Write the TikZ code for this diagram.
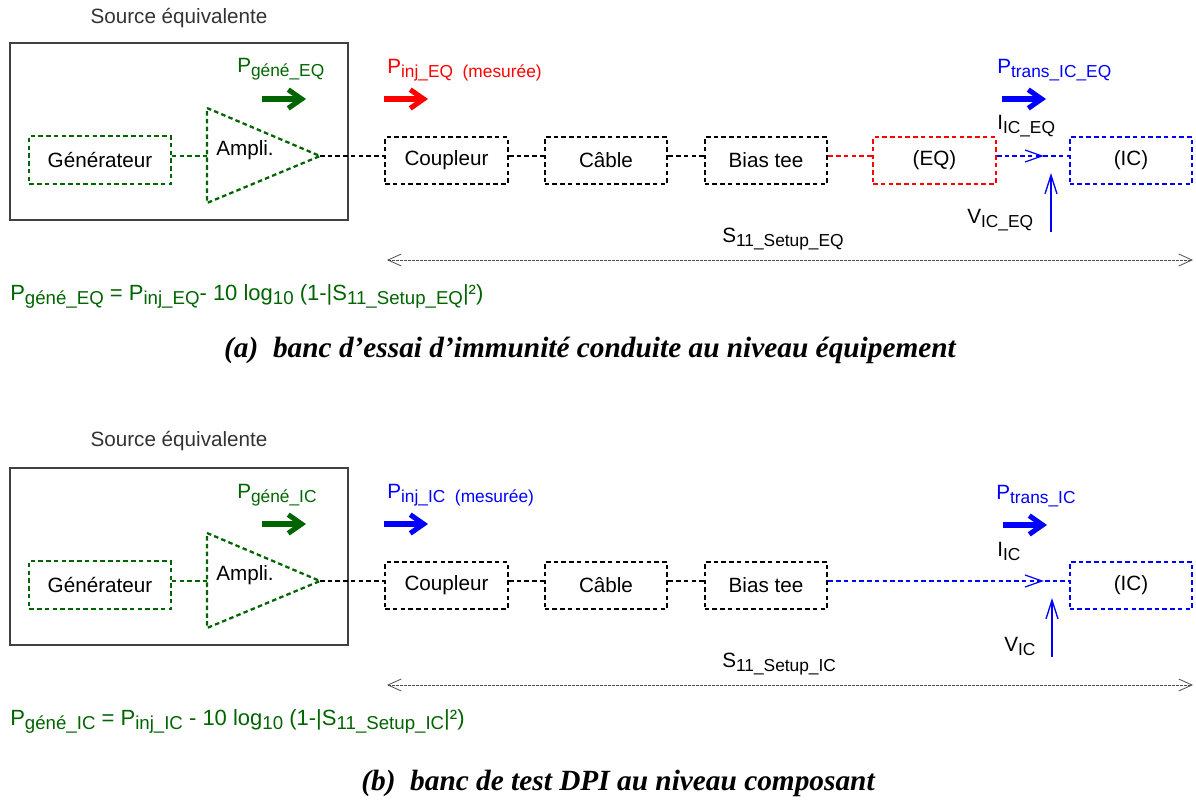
\documentclass[tikz,border=0pt]{standalone}
\usepackage{fontspec}
\setmainfont{Liberation Sans}
\newfontfamily\capfont{Liberation Serif}
\usetikzlibrary{positioning, calc, arrows.meta}
\definecolor{srcgreen}{RGB}{0,100,0}
\newcommand{\sub}[2][13]{\raisebox{-3.5pt}{\fontsize{#1}{#1}\selectfont #2}}

\begin{document}
\begin{tikzpicture}[
            x=0.75pt, y=-0.75pt,
            font=\fontsize{15.5}{18}\selectfont,
            block/.style={rectangle, draw, line width=1.7pt, dash pattern=on 3.4pt off 2.4pt, minimum width=92pt, minimum height=35pt, inner sep=0pt},
            wire/.style={line width=1.7pt, dash pattern=on 3.4pt off 2.4pt},
            source/.style={rectangle, draw=black!75, line width=0.8pt, minimum width=253.5pt, minimum height=132.75pt},
            power/.style={-{Straight Barb[length=10pt,width=14pt]}, line width=3.8pt},
            probe/.style={-{Straight Barb[length=14pt,width=9pt]}, line width=1pt, blue},
            span/.style={{Straight Barb[length=10pt,width=9pt]}-{Straight Barb[length=10pt,width=9pt]}, line width=0.6pt, dash pattern=on 2pt off 1pt, black!70},
            plabel/.style={anchor=base west, inner sep=0pt},
            formula/.style={plabel, text=srcgreen, font=\fontsize{16.5}{19}\selectfont},
            caption/.style={font=\capfont\bfseries\itshape\fontsize{22}{26}\selectfont}
        ]
            \useasboundingbox (0,0) rectangle (1196,803);

            % --- (a) equipment level ---
            \node[text=black!80] (srcA) at (179,18) {Source équivalente};
            \node[source] (boxA) at (179,131.5) {};
            \node[block, draw=srcgreen, minimum width=106pt, minimum height=36pt] (genA) at (100,160) {Générateur};
            \coordinate (ampinA) at (207,156);
            \coordinate (ampA) at (320,156);
            \draw[wire, srcgreen] (207,108) -- (ampA) -- (207,203) -- cycle;
            \node[anchor=west, inner sep=0pt] (ampliA) at (216,150) {Ampli.};
            \node[block] (cplA) at (446.5,160.5) {Coupleur};
            \node[block] (cabA) at (606,160.5) {Câble};
            \node[block] (biasA) at (766,160.5) {Bias tee};
            \node[block, draw=red] (eqA) at (934.5,160.5) {(EQ)};
            \node[block, draw=blue] (icA) at (1131,160.5) {(IC)};

            \draw[wire, srcgreen] (genA.east |- ampinA) -- (ampinA);
            \draw[wire] (ampA) -- (cplA.west |- ampA);
            \draw[wire] (cplA.east |- ampA) -- (cabA.west |- ampA);
            \draw[wire] (cabA.east |- ampA) -- (biasA.west |- ampA);
            \draw[wire, red] (biasA.east |- ampA) -- (eqA.west |- ampA);
            \draw[wire, blue] (eqA.east |- ampA) -- (icA.west |- ampA);
            \coordinate (iA) at (1042,156);
            \draw[blue, line width=0.9pt] ($(iA)+(-17,-6)$) -- (iA) -- ($(iA)+(-17,6)$);
            \coordinate (vA) at (1051,232);
            \coordinate (vtipA) at (1051,173);
            \draw[probe] (vA) -- (vtipA);

            % --- Labels (a) ---
            \node[plabel, text=srcgreen] (pgenA) at (237,72) {P\sub{géné\_EQ}};
            \draw[power, srcgreen] (262,99) -- (306,99);
            \node[plabel, text=red] (pinjA) at (387,73) {P\sub{inj\_EQ \ (mesurée)}};
            \draw[power, red] (384,99) -- (428,99);
            \node[plabel, text=blue] (ptrA) at (997,73) {P\sub{trans\_IC\_EQ}};
            \draw[power, blue] (1002,99) -- (1046,99);
            \node[plabel] (curA) at (997,129) {I\sub{IC\_EQ}};
            \node[plabel] (voltA) at (967,223) {V\sub{IC\_EQ}};
            \node[plabel] (sA) at (722,242) {S\sub{11\_Setup\_EQ}};
            \coordinate (spanlA) at (387,260);
            \coordinate (spanrA) at (1193,260);
            \draw[span] (spanlA) -- (spanrA);
            \node[formula] (eqnA) at (10,300) {P\sub[14]{géné\_EQ} = P\sub[14]{inj\_EQ}- 10 log\sub[14]{10} (1-|S\sub[14]{11\_Setup\_EQ}|²)};
            \node[caption] (capA) at (590,350) {(a)\ \ banc d’essai d’immunité conduite au niveau équipement};

            % --- (b) component level ---
            \begin{scope}[shift={(0,425)}]
            \node[text=black!80] (srcB) at (179,16) {Source équivalente};
            \node[source] (boxB) at (179,131.5) {};
            \node[block, draw=srcgreen, minimum width=106pt, minimum height=36pt] (genB) at (100,160) {Générateur};
            \coordinate (ampinB) at (207,156);
            \coordinate (ampB) at (320,156);
            \draw[wire, srcgreen] (207,108) -- (ampB) -- (207,203) -- cycle;
            \node[anchor=west, inner sep=0pt] (ampliB) at (216,150) {Ampli.};
            \node[block] (cplB) at (446.5,160.5) {Coupleur};
            \node[block] (cabB) at (606,160.5) {Câble};
            \node[block] (biasB) at (766,160.5) {Bias tee};
            \node[block, draw=blue] (icB) at (1131,160.5) {(IC)};

            \draw[wire, srcgreen] (genB.east |- ampinB) -- (ampinB);
            \draw[wire] (ampB) -- (cplB.west |- ampB);
            \draw[wire] (cplB.east |- ampB) -- (cabB.west |- ampB);
            \draw[wire] (cabB.east |- ampB) -- (biasB.west |- ampB);
            \draw[wire, blue] (biasB.east |- ampB) -- (icB.west |- ampB);
            \coordinate (iB) at (1042,156);
            \draw[blue, line width=0.9pt] ($(iB)+(-17,-6)$) -- (iB) -- ($(iB)+(-17,6)$);
            \coordinate (vB) at (1052,232);
            \coordinate (vtipB) at (1052,173);
            \draw[probe] (vB) -- (vtipB);

            % --- Labels (b) ---
            \node[plabel, text=srcgreen] (pgenB) at (237,73) {P\sub{géné\_IC}};
            \draw[power, srcgreen] (262,99) -- (306,99);
            \node[plabel, text=blue] (pinjB) at (387,73) {P\sub{inj\_IC \ (mesurée)}};
            \draw[power, blue] (384,99) -- (428,99);
            \node[plabel, text=blue] (ptrB) at (996,74) {P\sub{trans\_IC}};
            \draw[power, blue] (1003,100) -- (1047,100);
            \node[plabel] (curB) at (997,131) {I\sub{IC}};
            \node[plabel] (voltB) at (1004,226) {V\sub{IC}};
            \node[plabel] (sB) at (722,242) {S\sub{11\_Setup\_IC}};
            \coordinate (spanlB) at (387,260);
            \coordinate (spanrB) at (1193,260);
            \draw[span] (spanlB) -- (spanrB);
            \node[formula] (eqnB) at (10,300) {P\sub[14]{géné\_IC} = P\sub[14]{inj\_IC} - 10 log\sub[14]{10} (1-|S\sub[14]{11\_Setup\_IC}|²)};
            \node[caption] (capB) at (618,358) {(b)\ \ banc de test DPI au niveau composant};
            \end{scope}
        \end{tikzpicture}
\end{document}
